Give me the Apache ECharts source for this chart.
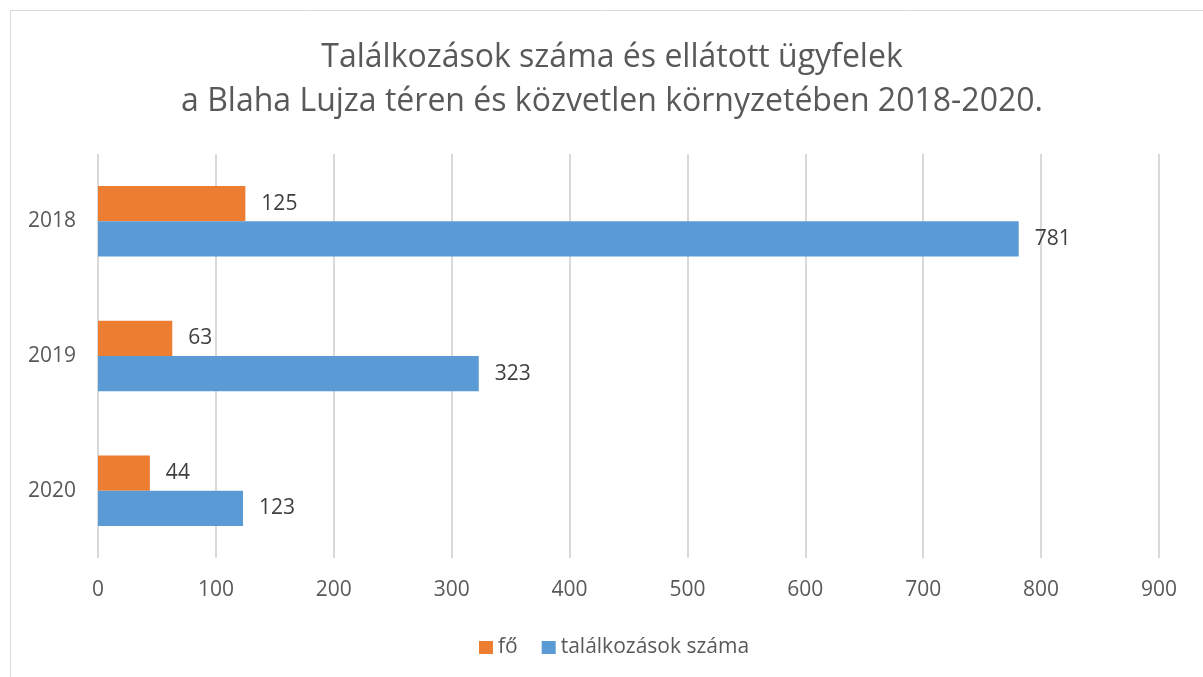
<!DOCTYPE html>
<html>
<head>
<meta charset="utf-8">
<script src="https://cdn.jsdelivr.net/npm/echarts@6/dist/echarts.min.js"></script>
<style>
    html, body { margin: 0; padding: 0; background: #fff; }
    #chart { width: 1203px; height: 677px; }
</style>
</head>
<body>
<div id="chart"></div>
<script>
    // évek és sorozatok
    var years = ['2018', '2019', '2020'];
    var foValues = [125, 63, 44];
    var talalkozasValues = [781, 323, 123];
    var xTicks = [0, 100, 200, 300, 400, 500, 600, 700, 800, 900];

    var chart = echarts.init(document.getElementById('chart'));
    var font = 'Open Sans';

    var option = {
        backgroundColor: '#fff',
        animation: false,
        graphic: [
            {
                type: 'rect',
                shape: { x: 10.5, y: 10.5, width: 1200, height: 700 },
                style: { fill: 'none', stroke: '#d9d9d9', lineWidth: 1 }
            }
        ],
        title: {
            text: 'Találkozások száma és ellátott ügyfelek\na Blaha Lujza téren és közvetlen környzetében 2018-2020.',
            left: 607,
            top: 31,
            textAlign: 'center',
            textStyle: {
                fontFamily: font,
                fontSize: 32,
                fontWeight: 'normal',
                color: '#595959',
                lineHeight: 44
            }
        },
        legend: {
            top: 632,
            left: 474,
            itemWidth: 14,
            itemHeight: 13,
            itemGap: 24,
            icon: 'rect',
            textStyle: { fontFamily: font, fontSize: 21, color: '#595959' },
            data: ['fő', 'találkozások száma']
        },
        grid: {
            left: 98,
            right: 44,
            top: 154,
            bottom: 119,
            containLabel: false
        },
        xAxis: {
            type: 'value',
            min: 0,
            max: 900,
            interval: 100,
            axisLine: { show: false },
            axisTick: { show: false },
            axisLabel: {
                fontFamily: font,
                fontSize: 21,
                color: '#595959',
                margin: 22,
                formatter: function (v) {
                    return xTicks.indexOf(v) >= 0 ? String(v) : '';
                }
            },
            splitLine: { show: true, lineStyle: { color: '#d9d9d9', width: 2 } }
        },
        yAxis: {
            type: 'category',
            inverse: true,
            data: years,
            axisLine: { show: false },
            axisTick: { show: false },
            axisLabel: {
                fontFamily: font,
                fontSize: 21,
                color: '#595959',
                margin: 22
            }
        },
        series: [
            {
                name: 'fő',
                type: 'bar',
                data: foValues,
                barGap: '0%',
                barCategoryGap: '47.6%',
                itemStyle: { color: '#ED7D31' },
                label: {
                    show: true,
                    position: 'right',
                    distance: 16,
                    fontFamily: font,
                    fontSize: 21,
                    color: '#404040'
                }
            },
            {
                name: 'találkozások száma',
                type: 'bar',
                data: talalkozasValues,
                barGap: '0%',
                barCategoryGap: '47.6%',
                itemStyle: { color: '#5B9BD5' },
                label: {
                    show: true,
                    position: 'right',
                    distance: 16,
                    fontFamily: font,
                    fontSize: 21,
                    color: '#404040'
                }
            }
        ]
    };

    chart.setOption(option);
</script>
</body>
</html>
